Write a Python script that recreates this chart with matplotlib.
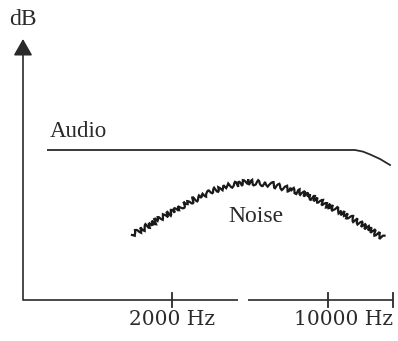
import numpy as np
import matplotlib
matplotlib.use('Agg')
import matplotlib.pyplot as plt

# audio response (flat, rolling off at the top end)
audio_freq = [556, 13210, 14340, 15420, 17100, 18960]
audio_db = [37.5, 37.5, 37.1, 36.4, 35.25, 33.75]

# noise spectrum envelope
noise_freq = [1324, 1644, 2335, 3282, 4335, 5495, 7725, 10970, 13910, 17630]
noise_db = [16.25, 19.25, 24.25, 28.0, 29.5, 29.0, 26.75, 22.5, 19.25, 15.5]

tick_freq = [2000, 10000]
tick_labels = ['2000 Hz', '10000 Hz']
f_start, f_end = 430, 19550      # ends of the frequency axis
gap = (3951, 4380)               # break in the frequency axis
db_top = 65.25

ink = '#2a2a2a'
serif = 'Liberation Serif'

fig = plt.figure(figsize=(3.98, 3.41), dpi=100)
ax = fig.add_axes([0, 0, 1, 1])
ax.set_xscale('log')
ax.set_xlim(339.2, 20585)
ax.set_ylim(-10.25, 75)
ax.axis('off')

# dB axis with arrow head
ax.annotate('', xy=(f_start, db_top), xytext=(f_start, 0),
            arrowprops=dict(arrowstyle='-|>,head_length=1.4,head_width=0.8',
                            mutation_scale=7.2, lw=1.2, color=ink,
                            shrinkA=0, shrinkB=0))

# frequency axis, broken in the middle
ax.plot([f_start, gap[0]], [0, 0], color=ink, lw=1.2, solid_capstyle='butt')
ax.plot([gap[1], f_end], [0, 0], color=ink, lw=1.2, solid_capstyle='butt')
for f in tick_freq + [f_end]:
    ax.plot([f, f], [-1.75, 1.75], color=ink, lw=1.3)

ax.text(tick_freq[0], -6.25, tick_labels[0], ha='center', va='baseline',
        family='DejaVu Serif', fontsize=14.5, color=ink)
ax.text(f_end, -6.25, tick_labels[1], ha='right', va='baseline',
        family='DejaVu Serif', fontsize=14.5, color=ink)

ax.text(f_start, 68.75, 'dB', ha='center', va='baseline',
        family=serif, fontsize=17, color=ink)

# audio curve
ax.plot(audio_freq, audio_db, color=ink, lw=1.3)
ax.text(568, 40.75, 'Audio', ha='left', va='baseline',
        family=serif, fontsize=16.5, color=ink)

# noise curve, drawn jagged
noise_line, = ax.plot(noise_freq, noise_db, color='#1a1a1a', lw=1.6,
                      solid_joinstyle='miter')
noise_line.set_sketch_params(scale=2.8, length=6, randomness=3)
ax.text(4758, 19.5, 'Noise', ha='center', va='baseline',
        family=serif, fontsize=17, color=ink)

fig.savefig('out.png', dpi=100)
